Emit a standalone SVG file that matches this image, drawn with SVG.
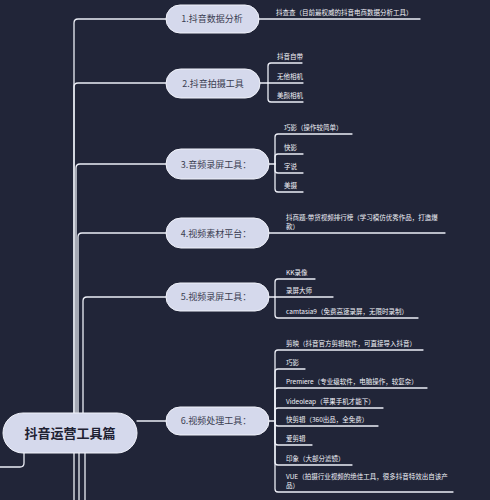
<svg xmlns="http://www.w3.org/2000/svg" width="490" height="500" viewBox="0 0 490 500">
<style>
.bg{fill:#212538}
.ln{fill:none;stroke:#eceef6;stroke-width:1.3;stroke-linecap:round}
.node rect{fill:#d5d9ec;stroke:#f0f2fa;stroke-width:1}
.nt{font-family:"Noto Sans CJK SC","Noto Sans",sans-serif;font-size:9px;fill:#3b3e52;text-anchor:middle}
.rt{font-family:"Noto Sans CJK SC","Noto Sans",sans-serif;font-size:13px;font-weight:bold;fill:#1f2233;text-anchor:middle}
.ct{font-family:"Noto Sans CJK SC","Noto Sans",sans-serif;font-size:6.5px;fill:#f2f3f8}
</style>
<rect class="bg" x="0" y="0" width="490" height="500"/>
<g id="connectors">
  <path class="ln" d="M74,413 V23 Q74,19 78,19 H166"/>
  <path class="ln" d="M74,413 V87 Q74,83 78,83 H166"/>
  <path class="ln" d="M76,413 V168 Q76,164 80,164 H166"/>
  <path class="ln" d="M78,413 V237 Q78,233 82,233 H166"/>
  <path class="ln" d="M83,413 V301 Q83,297 87,297 H166"/>
  <path class="ln" d="M137,421 H166"/>
  <path class="ln" d="M74,453 V500"/>
  <path class="ln" d="M79,453 V500"/>
  <path class="ln" d="M85,453 V500"/>
  <path class="ln" d="M24,453 V463 Q24,467 20,467 H0"/>
  <!-- node 1 -->
  <path class="ln" d="M259,19 H420"/>
  <!-- node 2 -->
  <path class="ln" d="M260,83 H303"/>
  <path class="ln" d="M268,83 V66 Q268,63 271,63 H302"/>
  <path class="ln" d="M268,83 V99 Q268,102 271,102 H303"/>
  <!-- node 3 -->
  <path class="ln" d="M269,164 H275"/>
  <path class="ln" d="M275,164 V137 Q275,134 278,134 H352"/>
  <path class="ln" d="M275,164 V157 Q275,154 278,154 H303"/>
  <path class="ln" d="M275,164 V170 Q275,173 278,173 H303"/>
  <path class="ln" d="M275,164 V189 Q275,192 278,192 H303"/>
  <!-- node 4 -->
  <path class="ln" d="M269,233 H445"/>
  <!-- node 5 -->
  <path class="ln" d="M269,297 H333"/>
  <path class="ln" d="M275,297 V282 Q275,279 278,279 H315"/>
  <path class="ln" d="M275,297 V315 Q275,318 278,318 H418"/>
  <!-- node 6 -->
  <path class="ln" d="M269,421 H275"/>
  <path class="ln" d="M275,421 V353 Q275,350 278,350 H423"/>
  <path class="ln" d="M275,421 V372 Q275,369 278,369 H305"/>
  <path class="ln" d="M275,421 V391 Q275,388 278,388 H427"/>
  <path class="ln" d="M275,421 V411 Q275,408 278,408 H383"/>
  <path class="ln" d="M275,421 V423 Q275,426 278,426 H378"/>
  <path class="ln" d="M275,421 V442 Q275,445 278,445 H312"/>
  <path class="ln" d="M275,421 V462 Q275,465 278,465 H352"/>
  <path class="ln" d="M275,421 V489 Q275,492 278,492 H453"/>
</g>
<g id="root" class="node">
  <rect x="3" y="413" width="134" height="40" rx="20"/>
  <text class="rt" x="70" y="438">抖音运营工具篇</text>
</g>
<g id="n1" class="node">
  <rect x="166" y="5" width="93" height="28" rx="14"/>
  <text class="nt" x="212" y="22">1.抖音数据分析</text>
</g>
<g id="n2" class="node">
  <rect x="166" y="69" width="94" height="29" rx="14.5"/>
  <text class="nt" x="213" y="86.5">2.抖音拍摄工具</text>
</g>
<g id="n3" class="node">
  <rect x="166" y="149" width="103" height="30" rx="15"/>
  <text class="nt" x="216" y="167.5">3.音频录屏工具：</text>
</g>
<g id="n4" class="node">
  <rect x="166" y="218" width="103" height="30" rx="15"/>
  <text class="nt" x="216" y="236.5">4.视频素材平台：</text>
</g>
<g id="n5" class="node">
  <rect x="166" y="283" width="103" height="28" rx="14"/>
  <text class="nt" x="216" y="300">5.视频录屏工具：</text>
</g>
<g id="n6" class="node">
  <rect x="166" y="407" width="103" height="28" rx="14"/>
  <text class="nt" x="216" y="424">6.视频处理工具：</text>
</g>
<g id="children">
  <text class="ct" x="276" y="15">抖查查（目前最权威的抖音电商数据分析工具）</text>
  <text class="ct" x="277" y="59">抖音自带</text>
  <text class="ct" x="277" y="79">无他相机</text>
  <text class="ct" x="277" y="98">美颜相机</text>
  <text class="ct" x="284" y="130">巧影（操作较简单）</text>
  <text class="ct" x="284" y="150">快影</text>
  <text class="ct" x="284" y="169">字说</text>
  <text class="ct" x="284" y="188">美摄</text>
  <text class="ct" x="286" y="220">抖商题-带货视频排行榜（学习模仿优秀作品，打造爆</text>
  <text class="ct" x="286" y="229">款）</text>
  <text class="ct" x="286" y="275">KK录像</text>
  <text class="ct" x="286" y="293">录屏大师</text>
  <text class="ct" x="286" y="314">camtasia9（免费高速录屏，无限时录制）</text>
  <text class="ct" x="286" y="346">剪映（抖音官方剪辑软件，可直接导入抖音）</text>
  <text class="ct" x="286" y="365">巧影</text>
  <text class="ct" x="286" y="384">Premiere（专业级软件，电脑操作，较复杂）</text>
  <text class="ct" x="286" y="404">Videoleap（苹果手机才能下）</text>
  <text class="ct" x="286" y="422">快剪辑（360出品，全免费）</text>
  <text class="ct" x="286" y="441">爱剪辑</text>
  <text class="ct" x="286" y="461">印象（大部分滤镜）</text>
  <text class="ct" x="286" y="479">VUE（拍摄行业视频的绝佳工具，很多抖音特效出自该产</text>
  <text class="ct" x="286" y="488">品）</text>
</g>
</svg>
